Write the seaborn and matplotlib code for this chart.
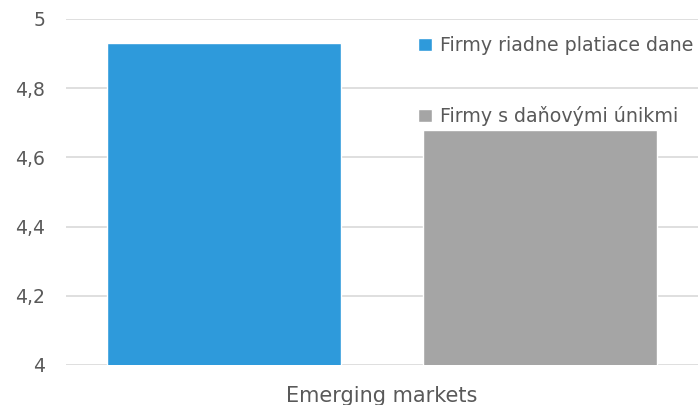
import matplotlib
matplotlib.use('Agg')
import matplotlib.pyplot as plt
import pandas as pd
import seaborn as sns

# Chart data
categories = ['Emerging markets']
series = ['Firmy riadne platiace dane', 'Firmy s daňovými únikmi']
values = [4.93, 4.68]
y_ticks = [4.0, 4.2, 4.4, 4.6, 4.8, 5.0]
y_tick_labels = ['4', '4,2', '4,4', '4,6', '4,8', '5']
colors = ['#2E9ADB', '#A5A5A5']

df = pd.DataFrame({
    'category': categories * len(series),
    'series': series,
    'value': values,
})

sns.set_style('white')
plt.rcParams['font.family'] = ['DejaVu Sans']
text_color = '#595959'

fig = plt.figure(figsize=(6.99, 4.05), dpi=100)
ax = fig.add_axes([66 / 699, 40 / 405, 632 / 699, 346 / 405])

sns.barplot(data=df, x='category', y='value', hue='series', palette=colors,
            width=1.0, gap=0.26, saturation=1, ax=ax)

ax.set_ylim(4, 5)
ax.set_xlim(-0.5, 0.5)
ax.set_yticks(y_ticks)
ax.set_yticklabels(y_tick_labels)
ax.yaxis.grid(True, color='#d9d9d9', linewidth=1.2)
ax.set_axisbelow(True)
for s in ax.spines.values():
    s.set_visible(False)
ax.tick_params(axis='y', length=0, colors=text_color, labelsize=13.5, pad=15)
ax.tick_params(axis='x', length=0, colors=text_color, labelsize=15, pad=15)
ax.set_xlabel('')
ax.set_ylabel('')

leg = ax.legend(loc='upper left', bbox_to_anchor=(418 / 699, 1 - 36 / 405),
                bbox_transform=fig.transFigure, frameon=False,
                handlelength=0.72, handleheight=0.72, handletextpad=0.45,
                labelspacing=2.68, fontsize=13.7, borderpad=0, borderaxespad=0)
for t in leg.get_texts():
    t.set_color(text_color)

fig.savefig('out.png', dpi=100)
